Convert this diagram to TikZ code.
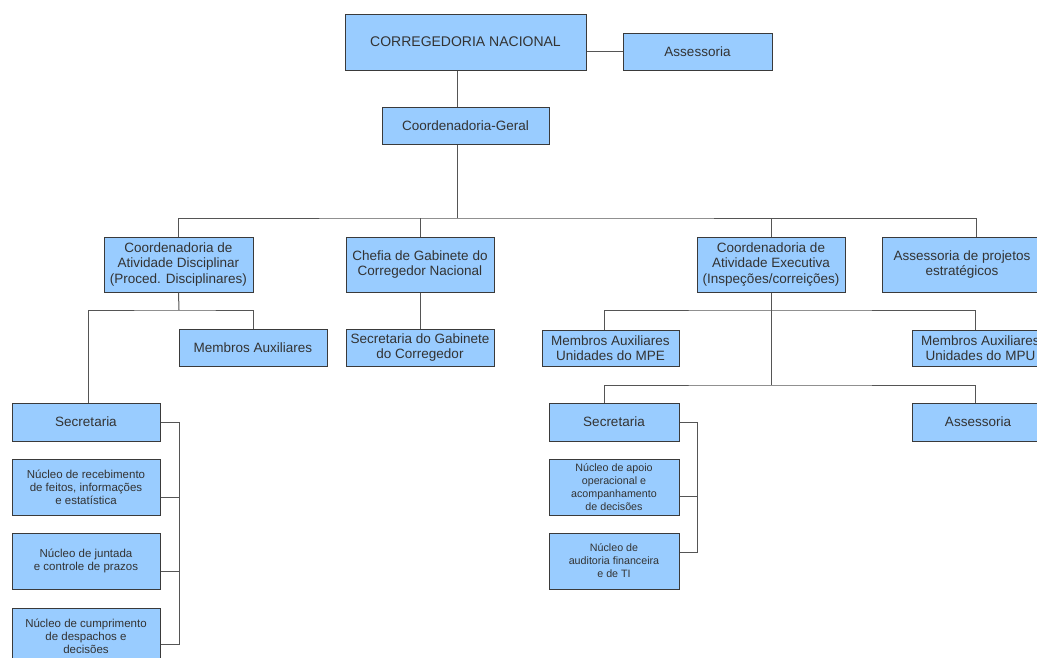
\documentclass[tikz,border=0pt]{standalone}
\usepackage{fontspec}
\setmainfont{Liberation Sans}
\definecolor{boxfill}{HTML}{99CCFF}
\definecolor{boxline}{HTML}{3A3A3A}
\definecolor{linkline}{HTML}{555555}
\definecolor{txt}{HTML}{333333}
\begin{document}
\begin{tikzpicture}[x=1pt,y=-1pt,
  box/.style={draw=boxline,fill=boxfill,line width=1pt,inner sep=0pt,align=center,text=txt,font=\fontsize{13.5}{15.5}\selectfont},
  small/.style={box,font=\fontsize{11.5}{13}\selectfont},
  tiny/.style={box,font=\fontsize{10.7}{13}\selectfont},
  link/.style={draw=linkline,line width=1pt}]
\useasboundingbox (0,0) rectangle (1037,657);
\clip (0,0) rectangle (1037,657);
\fill[white] (0,0) rectangle (1037,657);

% top level
\node[box,minimum width=241pt,minimum height=56pt,font=\fontsize{14}{16}\selectfont] (cn) at (465.5,42) {CORREGEDORIA NACIONAL};
\node[box,minimum width=149pt,minimum height=37pt] (ass1) at (697.5,51.5) {Assessoria};
\node[box,minimum width=167pt,minimum height=37pt] (cg) at (465.5,125.5) {Coordenadoria-Geral};

% second level
\node[box,minimum width=149pt,minimum height=55pt] (cad) at (178.5,264.5) {Coordenadoria de\\Atividade Disciplinar\\(Proced. Disciplinares)};
\node[box,minimum width=148pt,minimum height=55pt] (chefia) at (420,264.5) {Chefia de Gabinete do\\Corregedor Nacional};
\node[box,minimum width=148pt,minimum height=55pt] (cae) at (771,264.5) {Coordenadoria de\\Atividade Executiva\\(Inspeções/correições)};
\node[box,minimum width=160pt,minimum height=55pt] (apr) at (962,264.5) {Assessoria de projetos\\estratégicos};

% third level
\node[box,minimum width=148pt,minimum height=37pt] (ma1) at (253,347.5) {Membros Auxiliares};
\node[box,minimum width=148pt,minimum height=37pt] (sg) at (420,347.5) {Secretaria do Gabinete\\do Corregedor};
\node[box,minimum width=137pt,minimum height=36pt] (mpe) at (610.5,348) {Membros Auxiliares\\Unidades do MPE};
\node[box,minimum width=137pt,minimum height=36pt] (mpu) at (980.5,348) {Membros Auxiliares\\Unidades do MPU};

% left column
\node[box,minimum width=148pt,minimum height=38pt] (sec1) at (86,422) {Secretaria};
\node[small,minimum width=148pt,minimum height=56pt] (nr) at (86,487) {Núcleo de recebimento\\de feitos, informações\\e estatística};
\node[small,minimum width=148pt,minimum height=56pt] (nj) at (86,561) {Núcleo de juntada\\e controle de prazos};
\node[small,minimum width=148pt,minimum height=56pt] (nc) at (86,636) {Núcleo de cumprimento\\de despachos e\\decisões};

% right column
\node[box,minimum width=130pt,minimum height=38pt] (sec2) at (614,422) {Secretaria};
\node[box,minimum width=132pt,minimum height=38pt] (assr) at (978,422) {Assessoria};
\node[tiny,minimum width=130pt,minimum height=56pt] (na) at (614,487) {Núcleo de apoio\\operacional e\\acompanhamento\\de decisões};
\node[tiny,minimum width=130pt,minimum height=56pt] (nau) at (614,561) {Núcleo de\\auditoria financeira\\e de TI};

% connectors: top
\draw[link] (cn.east |- ass1.west) -- (ass1.west);
\draw[link] ([xshift=-8.5pt]cn.south) -- ([xshift=-8.5pt]cg.north);
\coordinate (bus1) at (457,218);
\draw[link] ([xshift=-8.5pt]cg.south) -- (bus1);
\draw[link] (cad.north) |- (bus1) -| ([xshift=14pt]apr.north);
\draw[link] (chefia.north) -- (chefia.north |- bus1);
\draw[link] (cae.north) -- (cae.north |- bus1);

% under Coordenadoria de Atividade Disciplinar
\coordinate (bus2) at (179,310);
\draw[link] (cad.south) -- (bus2);
\draw[link] ([xshift=2pt]sec1.north) |- (bus2) -| (ma1.north);
\draw[link] (chefia.south) -- (sg.north);

% under Coordenadoria de Atividade Executiva
\coordinate (bus3) at (771,310);
\coordinate (bus4) at (771,385);
\draw[link] (cae.south) -- (bus4);
\draw[link] ([xshift=-6.5pt]mpe.north) |- (bus3) -| ([xshift=-5.5pt]mpu.north);
\draw[link] ([xshift=-10pt]sec2.north) |- (bus4) -| ([xshift=-3pt]assr.north);

% left bracket
\coordinate (lb1) at (179,422);
\coordinate (lb4) at (179,644);
\draw[link] (sec1.east) -- (lb1) -- (lb4) -- (nc.east |- lb4);
\draw[link] ([yshift=-10pt]nr.east) -- ([yshift=-10pt]nr.east -| lb1);
\draw[link] ([yshift=-10pt]nj.east) -- ([yshift=-10pt]nj.east -| lb1);

% right bracket
\coordinate (rb1) at (697,422);
\coordinate (rb3) at (697,552);
\draw[link] (sec2.east) -- (rb1) -- (rb3) -- (nau.east |- rb3);
\draw[link] ([yshift=-9pt]na.east) -- ([yshift=-9pt]na.east -| rb1);
\end{tikzpicture}
\end{document}
